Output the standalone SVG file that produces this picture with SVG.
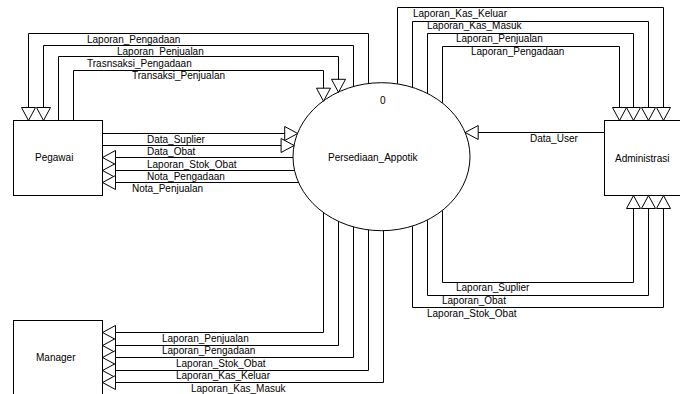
<svg xmlns="http://www.w3.org/2000/svg" width="680" height="394" viewBox="0 0 680 394">
  <style>
    .box { fill: #ffffff; stroke: #000000; stroke-width: 1; }
    .flow { fill: none; stroke: #000000; stroke-width: 1; marker-end: url(#arrow); }
    text { font-family: "Liberation Sans", Arial, sans-serif; font-size: 10px; fill: #000000; }
  </style>
  <defs>
    <!-- open triangular arrowhead used on every data flow -->
    <marker id="arrow" viewBox="-1 -1 15 16" refX="13" refY="7" markerWidth="15" markerHeight="16" markerUnits="userSpaceOnUse" orient="auto" overflow="visible">
      <path d="M0,0 L13,7 L0,14 Z" fill="#ffffff" stroke="#000000" stroke-width="1"/>
    </marker>
  </defs>
  <rect width="680" height="394" fill="#ffffff"/>

  <!-- central process -->
  <g id="process-persediaan">
    <ellipse class="box" cx="381.5" cy="156.7" rx="88.5" ry="74"/>
    <text x="380" y="104">0</text>
    <text x="328" y="161">Persediaan_Appotik</text>
  </g>

  <!-- external entities -->
  <g id="entity-pegawai">
    <rect class="box" x="13.5" y="120.5" width="89" height="75"/>
    <text x="35" y="161">Pegawai</text>
  </g>
  <g id="entity-administrasi">
    <rect class="box" x="604.5" y="120.5" width="89" height="75"/>
    <text x="615" y="162">Administrasi</text>
  </g>
  <g id="entity-manager">
    <rect class="box" x="13.5" y="320.5" width="89" height="80"/>
    <text x="36" y="361">Manager</text>
  </g>

  <!-- data flows -->
  <g id="connectors">
    <!-- Pegawai, over the top -->
    <path class="flow" d="M368.5,83.6 V33.5 H28.5 V120.5"/>
    <path class="flow" d="M353.5,86.6 V45.5 H43.5 V120.5"/>
    <path class="flow" d="M58.5,120.5 V56.5 H338.5 V92.3"/>
    <path class="flow" d="M73.5,120.5 V70.5 H323.5 V101.2"/>
    <!-- Pegawai, side flows -->
    <path class="flow" d="M102.5,133.5 H297.7"/>
    <path class="flow" d="M102.5,145.5 H294.1"/>
    <path class="flow" d="M293,157.5 H102.5"/>
    <path class="flow" d="M294.5,170.5 H102.5"/>
    <path class="flow" d="M298.6,182.5 H102.5"/>
    <!-- Manager -->
    <path class="flow" d="M323.5,212.2 V332.5 H102.5"/>
    <path class="flow" d="M338.5,221.1 V345.5 H102.5"/>
    <path class="flow" d="M353.5,226.8 V357.5 H102.5"/>
    <path class="flow" d="M368.5,229.8 V370.5 H102.5"/>
    <path class="flow" d="M383.5,230.7 V382.5 H102.5"/>
    <!-- Administrasi, over the top -->
    <path class="flow" d="M397.5,83.8 V7.5 H663.5 V120.5"/>
    <path class="flow" d="M412.5,87.2 V21.5 H648.5 V120.5"/>
    <path class="flow" d="M427.5,93.2 V33.5 H633.5 V120.5"/>
    <path class="flow" d="M442.5,102.7 V46.5 H619.5 V120.5"/>
    <!-- Administrasi, side flow -->
    <path class="flow" d="M604.5,132.5 H465.2"/>
    <!-- Administrasi, underneath -->
    <path class="flow" d="M442.5,210.7 V282.5 H633.5 V195.5"/>
    <path class="flow" d="M427.5,220.2 V295.5 H648.5 V195.5"/>
    <path class="flow" d="M412.5,226.2 V307.5 H663.5 V195.5"/>
  </g>

  <!-- flow labels -->
  <g id="labels">
    <text x="87" y="43">Laporan_Pengadaan</text>
    <text x="117" y="54.5">Laporan_Penjualan</text>
    <text x="87" y="66.5">Trasnsaksi_Pengadaan</text>
    <text x="132" y="79">Transaksi_Penjualan</text>

    <text x="147" y="142.5">Data_Suplier</text>
    <text x="147" y="155">Data_Obat</text>
    <text x="147" y="167.5">Laporan_Stok_Obat</text>
    <text x="147" y="180">Nota_Pengadaan</text>
    <text x="132" y="192">Nota_Penjualan</text>

    <text x="162" y="341.5">Laporan_Penjualan</text>
    <text x="162" y="354">Laporan_Pengadaan</text>
    <text x="176" y="366.5">Laporan_Stok_Obat</text>
    <text x="176" y="379">Laporan_Kas_Keluar</text>
    <text x="191" y="391.5">Laporan_Kas_Masuk</text>

    <text x="413" y="17.3">Laporan_Kas_Keluar</text>
    <text x="427" y="29.3">Laporan_Kas_Masuk</text>
    <text x="456" y="42.3">Laporan_Penjualan</text>
    <text x="471" y="55">Laporan_Pengadaan</text>

    <text x="530" y="142">Data_User</text>

    <text x="456" y="291">Laporan_Suplier</text>
    <text x="442" y="304">Laporan_Obat</text>
    <text x="427" y="316.5">Laporan_Stok_Obat</text>
  </g>
</svg>
